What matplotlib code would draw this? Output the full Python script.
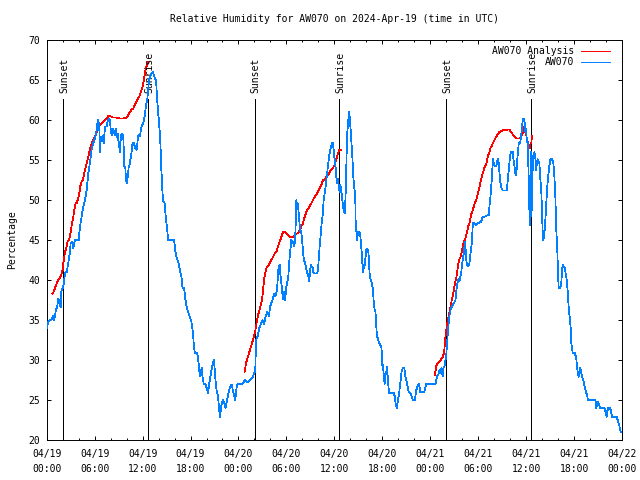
import numpy as np
import pandas as pd
import matplotlib
matplotlib.use('Agg')
import matplotlib.pyplot as plt

start = pd.Timestamp('2024-04-19 00:00')
span_hours = 72

# observed RH at AW070 (hours since start, %)
obs_hours = [0.0, 0.2, 0.4, 0.65, 0.75, 0.9, 1.05, 1.15, 1.33, 1.45, 1.58, 1.75, 1.8, 2.0, 2.16, 2.29, 2.5, 2.7,
             2.9, 3.0, 3.16, 3.33, 3.54, 4.0, 4.17, 4.37, 4.58, 4.79, 5.0, 5.2, 5.4, 5.62, 5.83, 6.04, 6.25, 6.37,
             6.45, 6.58, 6.66, 6.79, 6.91, 7.08, 7.16, 7.29, 7.5, 7.62, 7.79, 7.91, 8.04, 8.16, 8.33, 8.54, 8.66,
             8.75, 8.87, 9.08, 9.16, 9.29, 9.41, 9.58, 9.71, 9.83, 9.91, 10.0, 10.12, 10.25, 10.41, 10.62, 10.75,
             10.91, 11.08, 11.25, 11.45, 11.58, 11.66, 11.87, 12.08, 12.29, 12.41, 12.58, 12.7, 12.8, 13.1, 13.3,
             13.54, 13.7, 13.79, 14.0, 14.2, 14.33, 14.54, 14.75, 14.9, 15.08, 15.2, 15.95, 16.13, 16.3, 16.5,
             16.66, 16.87, 17.0, 17.2, 17.37, 17.5, 17.7, 17.91, 18.1, 18.2, 18.33, 18.41, 18.54, 18.83, 18.95,
             19.08, 19.16, 19.29, 19.41, 19.5, 19.66, 19.87, 19.95, 20.2, 20.29, 20.41, 20.58, 20.7, 20.83, 20.91,
             21.0, 21.12, 21.25, 21.45, 21.58, 21.7, 21.79, 21.91, 22.08, 22.25, 22.37, 22.5, 22.66, 22.83, 23.04,
             23.16, 23.29, 23.45, 23.58, 23.66, 23.79, 23.87, 24.16, 24.5, 24.8, 25.2, 25.5, 25.8, 26.0, 26.1,
             26.2, 26.4, 26.6, 26.8, 27.0, 27.2, 27.4, 27.6, 27.8, 28.0, 28.25, 28.37, 28.5, 28.62, 28.83, 28.95,
             29.04, 29.16, 29.25, 29.37, 29.45, 29.58, 29.66, 29.79, 29.91, 30.0, 30.12, 30.25, 30.33, 30.41,
             30.54, 30.62, 30.75, 30.87, 31.0, 31.12, 31.25, 31.33, 31.41, 31.5, 31.58, 31.66, 31.75, 31.83,
             31.91, 32.0, 32.08, 32.2, 32.33, 32.45, 32.58, 32.7, 32.83, 32.95, 33.04, 33.16, 33.29, 33.37, 33.54,
             33.66, 33.83, 33.95, 34.04, 34.16, 34.29, 34.41, 34.54, 34.66, 34.79, 34.91, 35.0, 35.12, 35.25,
             35.33, 35.45, 35.58, 35.7, 35.83, 35.91, 36.04, 36.16, 36.25, 36.33, 36.45, 36.54, 36.66, 36.75,
             36.87, 37.0, 37.08, 37.2, 37.33, 37.41, 37.5, 37.58, 37.75, 37.87, 37.95, 38.04, 38.12, 38.25, 38.37,
             38.5, 38.62, 38.66, 38.83, 38.95, 39.08, 39.16, 39.25, 39.37, 39.5, 39.58, 39.66, 39.75, 39.87, 40.0,
             40.12, 40.25, 40.33, 40.41, 40.54, 40.7, 40.83, 40.91, 41.04, 41.15, 41.25, 41.33, 41.45, 41.58,
             41.66, 41.87, 41.95, 42.0, 42.08, 42.2, 42.29, 42.37, 42.5, 42.58, 42.66, 42.75, 42.83, 43.41, 43.58,
             43.66, 43.83, 43.95, 44.08, 44.2, 44.3, 44.41, 44.58, 44.75, 44.87, 45.0, 45.16, 45.29, 45.41, 45.58,
             45.83, 46.08, 46.16, 46.25, 46.41, 46.58, 46.66, 46.75, 47.08, 47.25, 47.37, 47.5, 48.66, 48.75,
             48.87, 49.0, 49.16, 49.29, 49.41, 49.5, 49.58, 49.66, 49.79, 49.91, 50.0, 50.1, 50.25, 50.4, 50.6,
             50.8, 51.0, 51.16, 51.33, 51.45, 51.58, 51.66, 51.75, 51.87, 52.0, 52.16, 52.29, 52.37, 52.5, 52.62,
             52.75, 52.91, 53.04, 53.16, 53.25, 53.33, 53.54, 53.75, 53.95, 54.16, 54.37, 54.58, 54.79, 55.0,
             55.2, 55.33, 55.41, 55.54, 55.66, 55.75, 55.83, 55.95, 56.08, 56.25, 56.37, 56.5, 56.58, 56.66,
             56.79, 56.91, 57.08, 57.58, 57.7, 57.83, 58.0, 58.12, 58.33, 58.45, 58.58, 58.66, 58.75, 58.87,
             58.95, 59.08, 59.25, 59.41, 59.58, 59.7, 59.83, 59.91, 60.0, 60.08, 60.2, 60.33, 60.41, 60.5, 60.58,
             60.62, 60.68, 60.75, 60.83, 60.91, 61.04, 61.16, 61.25, 61.33, 61.45, 61.58, 61.66, 61.79, 61.91,
             62.0, 62.08, 62.16, 62.29, 62.41, 62.5, 62.62, 62.75, 62.91, 63.04, 63.25, 63.41, 63.54, 63.66,
             63.75, 63.91, 64.0, 64.08, 64.29, 64.41, 64.5, 64.58, 64.7, 64.83, 65.0, 65.12, 65.25, 65.33, 65.45,
             65.58, 65.66, 65.83, 66.08, 66.16, 66.25, 66.33, 66.45, 66.58, 66.66, 66.79, 66.91, 67.08, 67.2,
             67.33, 67.5, 67.62, 67.75, 68.66, 68.79, 68.9, 69.0, 69.08, 69.25, 69.79, 69.91, 70.08, 70.16, 70.29,
             70.5, 70.62, 70.75, 71.33, 71.45, 71.58, 71.66, 71.75, 71.85]
obs_rh = [34.0, 34.8, 35.0, 35.1, 35.5, 35.0, 35.6, 36.25, 36.75, 37.7, 37.2, 36.6, 38.5, 39.0, 39.6, 40.9, 41.0, 42.1,
          43.4, 44.6, 44.8, 44.0, 45.0, 45.0, 46.7, 47.9, 49.2, 50.0, 51.25, 53.3, 54.6, 56.25, 57.1, 57.7, 58.75, 59.8,
          60.0, 59.2, 56.0, 57.9, 57.3, 58.1, 57.1, 59.2, 59.2, 59.8, 60.2, 60.0, 58.5, 58.1, 58.9, 58.1, 58.9,
          57.9, 58.3, 56.7, 56.0, 58.0, 58.3, 58.1, 54.2, 54.2, 52.7, 52.1, 52.7, 54.0, 54.6, 56.0, 57.1,
          57.1, 56.5, 56.25, 58.0, 58.1, 58.0, 59.2, 59.6, 60.6, 61.7, 62.5, 63.75, 65.0, 65.8, 66.0,
          65.2, 65.0, 62.9, 60.4, 57.9, 54.2, 50.0, 49.6, 47.9, 46.25, 45.0, 45.0, 43.4, 42.7, 42.1,
          41.25, 40.4, 39.0, 39.0, 37.5, 36.75, 36.0, 35.4, 34.8, 34.2, 33.1, 31.75, 30.9, 30.9, 30.2,
          28.75, 28.0, 28.5, 29.0, 27.9, 27.0, 27.0, 26.7, 25.9, 26.7, 27.5, 28.5, 29.2, 29.6, 30.0,
          29.2, 27.5, 26.25, 25.4, 23.75, 22.9, 23.75, 24.6, 25.0, 24.6, 24.0, 24.6, 25.4, 26.25, 26.9,
          26.9, 26.25, 25.6, 25.0, 25.6, 26.7, 27.0, 27.0, 27.0, 27.5, 27.2, 27.5, 27.8, 28.5, 28.5,
          32.5, 33.0, 34.0, 34.5, 35.0, 34.5, 35.5, 36.0, 35.5, 36.8, 37.5, 37.9, 38.3, 38.0, 38.75, 40.8,
          41.7, 41.9, 40.6, 39.6, 38.75, 37.6, 38.5, 37.5, 38.3, 39.2, 39.8, 40.6, 41.9, 42.9,
          44.2, 45.0, 44.6, 44.8, 44.2, 45.8, 50.0, 49.0, 49.6, 48.75, 47.7, 46.9, 46.0, 46.2,
          45.4, 44.6, 43.3, 42.5, 42.1, 41.7, 40.8, 40.8, 39.8, 40.8, 41.9, 41.7, 41.5, 41.0, 40.8,
          40.8, 40.8, 41.25, 42.5, 44.2, 45.6, 47.1, 48.1, 50.0, 50.8, 51.7, 52.5, 53.5, 54.6,
          55.4, 56.0, 56.7, 57.1, 57.1, 56.25, 55.0, 54.0, 52.9, 52.1, 52.7, 51.7, 51.0, 51.9,
          51.25, 50.0, 49.2, 48.5, 48.3, 50.8, 54.2, 57.9, 60.0, 61.0, 60.0, 58.75, 57.5, 55.4, 52.9,
          51.5, 50.4, 47.5, 45.0, 46.0, 45.6, 46.0, 45.5, 44.2, 42.1, 41.0, 41.9, 41.5, 42.5, 43.75,
          43.9, 43.5, 42.5, 40.8, 40.0, 39.6, 38.75, 37.5, 36.25, 36.0, 34.2, 32.9, 32.7, 32.1,
          32.0, 31.75, 30.8, 29.4, 29.4, 27.9, 27.0, 28.0, 28.5, 29.2, 28.1, 26.9, 25.9, 25.9, 25.4,
          24.6, 24.0, 25.0, 25.6, 26.7, 27.5, 28.5, 29.0, 29.0, 28.1, 27.5, 26.7, 26.0, 25.9, 25.7,
          25.0, 25.0, 25.6, 26.25, 26.7, 27.0, 26.7, 26.0, 26.0, 26.0, 26.5, 27.0, 27.0, 27.5,
          28.0, 28.1, 28.75, 28.3, 29.0, 28.3, 28.0, 29.0, 29.2, 30.0, 30.5, 32.0, 34.0, 35.5, 36.5,
          36.8, 37.2, 37.5, 39.2, 39.8, 40.2, 39.8, 40.4, 40.8, 42.1, 43.1, 44.2, 44.8, 42.5, 41.9,
          41.7, 42.1, 43.3, 44.2, 45.4, 47.1, 47.1, 46.9, 47.1, 47.2, 47.3, 47.9, 47.9, 48.0,
          48.1, 48.1, 49.2, 50.4, 52.1, 53.3, 55.1, 54.6, 54.2, 54.2, 54.8, 55.1, 54.5, 53.5,
          52.1, 51.5, 51.2, 51.2, 52.5, 54.0, 55.6, 56.0, 56.0, 54.8, 54.0, 53.3, 53.1, 54.6,
          55.8, 57.1, 57.1, 58.3, 60.0, 60.2, 59.6, 58.5, 58.9, 57.5, 57.1, 52.5, 48.75, 46.9, 50.0,
          56.0, 48.0, 53.75, 53.75, 55.6, 56.0, 55.2, 53.75, 54.5, 55.1, 54.8, 54.6, 52.5, 50.8,
          48.3, 45.8, 45.0, 45.8, 47.5, 49.2, 51.25, 52.9, 54.3, 55.1, 55.1, 54.6, 52.9, 50.4,
          46.9, 43.5, 40.6, 39.0, 39.0, 39.8, 41.25, 41.9, 41.7, 41.5, 40.5, 39.8, 37.7, 36.5, 35.4,
          34.0, 32.1, 30.9, 30.9, 30.6, 30.4, 29.6, 28.5, 27.9, 28.5, 29.0, 28.3, 27.7, 27.3,
          26.7, 26.0, 25.6, 25.0, 25.0, 24.0, 24.8, 24.8, 24.6, 24.0, 24.0, 23.6, 22.9, 23.6, 24.0,
          24.0, 23.6, 22.9, 22.9, 22.5, 22.1, 21.9, 21.3, 21.0]

# analysis RH, one piece per night
ana1_hours = [0.7, 0.85, 1.04, 1.25, 1.45, 1.66, 1.87, 2.0, 2.08, 2.2, 2.33, 2.5, 2.62, 2.75, 2.91, 3.04, 3.16,
              3.33, 3.45, 3.62, 3.75, 3.87, 4.08, 4.2, 4.37, 4.5, 4.62, 4.79, 5.0, 5.2, 5.4, 5.62, 5.83, 6.04,
              6.25, 6.45, 6.66, 6.87, 7.08, 7.29, 7.5, 7.7, 7.91, 8.12, 8.33, 8.75, 9.16, 9.58, 10.0, 10.2,
              10.41, 10.62, 10.83, 11.04, 11.25, 11.45, 11.66, 11.87, 12.0, 12.16, 12.29, 12.41, 12.58, 12.7]
ana1_rh = [38.3, 38.5, 39.0, 39.6, 40.0, 40.3, 40.8, 41.25, 42.1, 42.9, 43.6, 44.2, 44.8, 45.0, 45.4, 46.25, 47.1,
           47.9, 48.75, 49.6, 49.6, 50.0, 50.8, 51.7, 52.3, 52.5, 52.9, 53.75, 54.6, 55.4, 56.25, 57.1, 57.5, 57.9,
           58.5, 58.9, 59.4, 59.6, 59.8, 60.0, 60.2, 60.5, 60.5, 60.4, 60.3, 60.3, 60.2, 60.2, 60.3, 60.6,
           61.0, 61.3, 61.4, 61.9, 62.3, 62.7, 63.1, 63.75, 64.2, 65.0, 65.8, 66.5, 66.9, 67.2]
ana2_hours = [24.75, 25.0, 25.3, 25.6, 25.9, 26.1, 26.3, 26.5, 26.7, 26.95, 27.08, 27.2, 27.33, 27.5, 27.7, 27.91,
              28.12, 28.33, 28.54, 28.75, 28.95, 29.16, 29.37, 29.58, 29.79, 30.0, 30.2, 30.41, 30.62, 30.83,
              31.04, 31.25, 31.45, 31.66, 31.87, 32.08, 32.29, 32.5, 32.7, 32.91, 33.12, 33.33, 33.54, 33.75,
              33.95, 34.16, 34.37, 34.58, 34.79, 35.0, 35.2, 35.41, 35.62, 35.83, 36.04, 36.16, 36.33, 36.45,
              36.58, 36.79]
ana2_rh = [28.5, 29.8, 30.8, 31.8, 32.8, 33.6, 34.8, 35.8, 36.5, 37.5, 38.75, 40.0, 40.8, 41.5, 41.7, 42.1,
           42.5, 42.9, 43.3, 43.5, 44.2, 44.8, 45.4, 46.0, 46.0, 45.8, 45.6, 45.4, 45.4, 45.3,
           45.6, 45.8, 45.8, 46.25, 46.7, 47.1, 47.9, 48.5, 48.9, 49.2, 49.6, 50.0, 50.4, 50.7,
           51.0, 51.5, 51.9, 52.5, 52.5, 52.9, 53.1, 53.5, 53.75, 54.0, 54.4, 54.8, 55.4, 55.8,
           56.25, 56.25]
ana3_hours = [48.58, 48.75, 48.95, 49.16, 49.37, 49.58, 49.75, 49.83, 49.91, 50.08, 50.2, 50.33, 50.5, 50.7, 50.83,
              50.95, 51.1, 51.25, 51.37, 51.5, 51.66, 51.79, 51.91, 52.08, 52.2, 52.33, 52.5, 52.62, 52.75, 52.91,
              53.04, 53.16, 53.33, 53.45, 53.58, 53.75, 53.87, 54.0, 54.16, 54.29, 54.41, 54.58, 54.7, 54.83,
              55.0, 55.12, 55.25, 55.41, 55.54, 55.66, 55.83, 55.95, 56.08, 56.25, 56.37, 56.5, 56.66, 56.87,
              57.08, 57.29, 57.5, 57.7, 57.91, 58.12, 58.33, 58.54, 58.75, 58.95, 59.16, 59.37, 59.58, 59.7,
              59.79, 59.87, 60.0, 60.08, 60.2, 60.33, 60.45, 60.58, 60.68, 60.7]
ana3_rh = [28.1, 29.2, 29.6, 29.8, 30.1, 30.4, 31.0, 32.1, 32.9, 34.2, 35.0, 35.6, 36.5, 37.5, 38.1,
           38.75, 39.6, 40.2, 41.0, 41.9, 42.6, 42.9, 43.3, 44.2, 44.8, 45.0, 45.6, 46.0, 46.7, 47.1,
           47.7, 48.3, 48.75, 49.2, 49.6, 50.0, 50.4, 51.0, 51.6, 52.3, 52.7, 53.4, 53.75, 54.2,
           54.5, 55.0, 55.6, 56.0, 56.5, 56.7, 57.1, 57.3, 57.6, 57.9, 58.1, 58.3, 58.5, 58.6,
           58.75, 58.75, 58.7, 58.8, 58.8, 58.5, 58.2, 57.9, 57.7, 57.7, 57.7, 57.9, 58.3, 58.75,
           59.2, 58.5, 58.3, 57.7, 57.3, 56.9, 56.5, 57.1, 57.2, 58.0]

sunset_hours = [2.08, 26.07, 50.0]
sunrise_hours = [12.7, 36.6, 60.58]

plt.rcParams['font.family'] = 'DejaVu Sans Mono'
plt.rcParams['font.size'] = 7

fig = plt.figure(figsize=(6.4, 4.8), dpi=100)
ax = fig.add_axes([46.7 / 640, 40 / 480, (622 - 46.7) / 640, 400 / 480])

lw = 0.7
data_lw = 0.55
red = '#ff0000'
blue = '#0080ff'

# sunset / sunrise markers
for h in sunset_hours:
    ax.plot([h, h], [20, 62.6], color='black', lw=lw, antialiased=False, zorder=1)
    ax.text(h + 0.1, 63.4, 'Sunset', rotation=90, ha='center', va='bottom')
for h in sunrise_hours:
    ax.plot([h, h], [20, 62.6], color='black', lw=lw, antialiased=False, zorder=1)
    ax.text(h + 0.15, 63.4, 'Sunrise', rotation=90, ha='center', va='bottom')

ax.plot(ana1_hours, ana1_rh, color=red, lw=data_lw, antialiased=False, label='AW070 Analysis', zorder=2)
ax.plot(ana2_hours, ana2_rh, color=red, lw=data_lw, antialiased=False, zorder=2)
ax.plot(ana3_hours, ana3_rh, color=red, lw=data_lw, antialiased=False, zorder=2)
ax.plot(obs_hours, obs_rh, color=blue, lw=data_lw, antialiased=False, label='AW070', zorder=3)

ax.set_xlim(0, span_hours)
ax.set_ylim(20, 70)

major = list(range(0, span_hours + 1, 6))
labels = [(start + pd.Timedelta(hours=h)).strftime('%m/%d\n%H:%M') for h in major]
ax.set_xticks(major, labels)
ax.set_xticks(range(0, span_hours + 1, 2), minor=True)
ax.set_yticks(range(20, 71, 5))

ax.tick_params(which='both', direction='in', top=True, right=True, width=lw, color='black')
ax.tick_params(axis='x', which='major', length=3.0, pad=6.5)
ax.tick_params(axis='x', which='minor', length=1.5)
ax.tick_params(axis='y', which='major', length=3.0, pad=5)
for lab in ax.get_xticklabels():
    lab.set_linespacing(1.6)
for s in ax.spines.values():
    s.set_linewidth(lw)

ax.set_title('Relative Humidity for AW070 on 2024-Apr-19 (time in UTC)', fontsize=7, pad=13)
ax.set_ylabel('Percentage', labelpad=8)

leg = ax.legend(loc='upper right', bbox_to_anchor=(0.983, 0.99), frameon=False, markerfirst=False,
                handlelength=3.0, handletextpad=0.7, labelspacing=0.15, borderaxespad=0.0, borderpad=0.2)
for line in leg.get_lines():
    line.set_linewidth(lw)

fig.savefig('out.png', dpi=100)
